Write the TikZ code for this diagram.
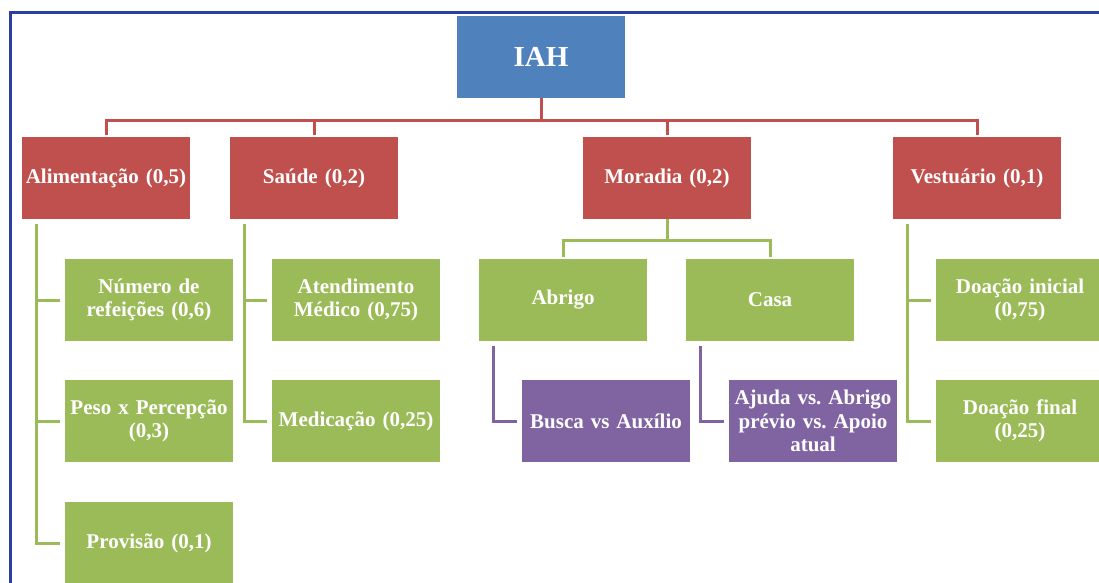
\documentclass[tikz,border=0pt]{standalone}
\usepackage{fontspec}
\setmainfont{Liberation Serif}
\frenchspacing
\definecolor{iahblue}{HTML}{4F81BD}
\definecolor{catred}{HTML}{C0504D}
\definecolor{subgreen}{HTML}{9BBB59}
\definecolor{itempurple}{HTML}{8064A2}
\definecolor{framecol}{HTML}{2B3F9E}

\begin{document}
\begin{tikzpicture}[x=1pt,y=-1pt,
  box/.style={minimum width=168pt,minimum height=82pt,inner sep=1pt,text width=166pt,
    align=center,text=white,font=\bfseries\fontsize{21}{23.5}\selectfont},
  topbox/.style={box,fill=iahblue,font=\bfseries\fontsize{29}{31}\selectfont},
  catbox/.style={box,fill=catred},
  subbox/.style={box,fill=subgreen},
  itembox/.style={box,fill=itempurple},
  redline/.style={draw=catred,line width=3pt},
  greenline/.style={draw=subgreen,line width=3pt},
  purpleline/.style={draw=itempurple,line width=3pt}]
  \useasboundingbox (0,0) rectangle (1099,582);
  \draw[framecol,line width=3pt] (10,620) -- (10,12) -- (1130,12);

  \node[topbox] (iah) at (541,57) {IAH};
  \node[catbox] (ali) at (106,178) {Alimentação (0,5)};
  \node[catbox] (sau) at (314,178) {Saúde (0,2)};
  \node[catbox] (mor) at (667,178) {Moradia (0,2)};
  \node[catbox] (ves) at (977,178) {Vestuário (0,1)};

  \node[subbox] (num) at (149,300) {Número de\\refeições (0,6)};
  \node[subbox] (peso) at (149,421) {Peso x Percepção\\(0,3)};
  \node[subbox] (prov) at (149,543) {Provisão (0,1)};
  \node[subbox] (ate) at (356,300) {Atendimento\\Médico (0,75)};
  \node[subbox] (med) at (356,421) {Medicação (0,25)};
  \node[subbox] (abr) at (563,300) {Abrigo};
  \node[subbox] (casa) at (770,300) {Casa};
  \node[subbox] (doa1) at (1020,300) {Doação inicial\\(0,75)};
  \node[subbox] (doa2) at (1020,421) {Doação final\\(0,25)};

  \node[itembox] (busca) at (606,421) {Busca vs Auxílio};
  \node[itembox] (ajuda) at (813,421) {Ajuda vs. Abrigo\\prévio vs. Apoio\\atual};

  % top level
  \draw[redline] (iah.south) -- ++(0,22) coordinate (bus);
  \foreach \c in {ali,sau,mor,ves}
    \draw[redline,shorten >=2pt] (bus) -| (\c.north);

  % alimentacao
  \foreach \s in {num,peso,prov}
    \draw[greenline,shorten >=5pt] ([xshift=15pt]ali.south west) ++(0,5) |- (\s.west);
  % saude
  \foreach \s in {ate,med}
    \draw[greenline,shorten >=5pt] ([xshift=15pt]sau.south west) ++(0,5) |- (\s.west);
  % vestuario
  \foreach \s in {doa1,doa2}
    \draw[greenline,shorten >=5pt] ([xshift=15pt]ves.south west) ++(0,5) |- (\s.west);
  % moradia
  \draw[greenline] (mor.south) -- ++(0,21) coordinate (mbus);
  \foreach \s in {abr,casa}
    \draw[greenline,shorten >=2pt] (mbus) -| (\s.north);
  \draw[purpleline,shorten >=5pt] ([xshift=15pt]abr.south west) ++(0,5) |- (busca.west);
  \draw[purpleline,shorten >=5pt] ([xshift=15pt]casa.south west) ++(0,5) |- (ajuda.west);
\end{tikzpicture}
\end{document}
